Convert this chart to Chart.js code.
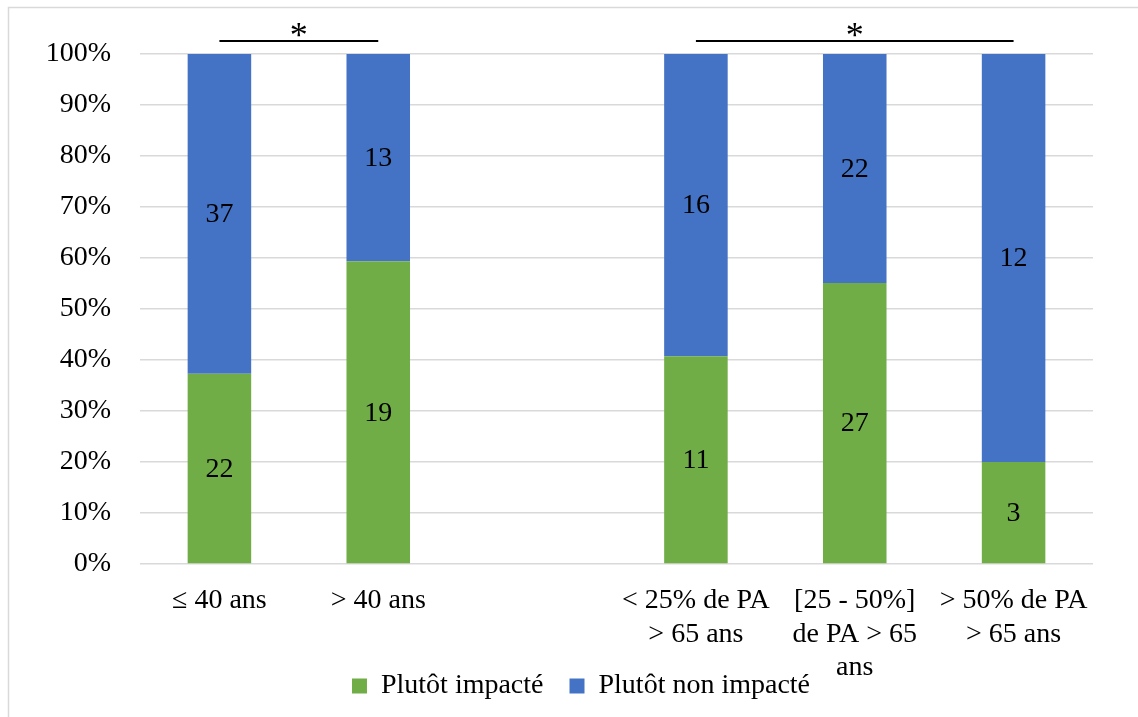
<!DOCTYPE html>
<html>
<head>
<meta charset="utf-8">
<script src="https://cdn.jsdelivr.net/npm/chart.js@4.4.1/dist/chart.umd.min.js"></script>
<style>
  html, body { margin: 0; padding: 0; background: #fff; overflow: hidden; }
  #wrap { width: 1138px; height: 730px; }
</style>
</head>
<body>
<div id="wrap"><canvas id="myChart" width="1138" height="730"></canvas></div>
<script>
// categories (the empty one is the gap between the two groups)
var categories = [
  '≤ 40 ans',
  '> 40 ans',
  '',
  ['< 25% de PA', '> 65 ans'],
  ['[25 - 50%]', 'de PA > 65', 'ans'],
  ['> 50% de PA', '> 65 ans']
];
// counts shown inside the bars
var impacte = [22, 19, null, 11, 27, 3];
var nonImpacte = [37, 13, null, 16, 22, 12];
var seriesNames = ['Plutôt impacté', 'Plutôt non impacté'];
var yTicks = [0, 10, 20, 30, 40, 50, 60, 70, 80, 90, 100];
// significance brackets: [from category, to category, mark]
var brackets = [[0, 1, '*'], [3, 5, '*']];

var FONT = 'Liberation Serif, Times New Roman, serif';

// share of each group, from the counts
function share(a, b) {
  return a.map(function (v, i) {
    if (v === null) return null;
    return v / (v + b[i]) * 100;
  });
}
var pctImpacte = share(impacte, nonImpacte);
var pctNon = share(nonImpacte, impacte);

// no clipping of tick labels (the long label runs into the legend)
function noLabelClip(scale) {
  scale._computeLabelArea = function () { return undefined; };
}

// white page + light frame
var framePlugin = {
  id: 'frame',
  beforeDraw: function (chart) {
    var ctx = chart.ctx;
    ctx.save();
    ctx.fillStyle = '#fff';
    ctx.fillRect(0, 0, chart.width, chart.height);
    ctx.strokeStyle = '#d9d9d9';
    ctx.lineWidth = 1.5;
    ctx.beginPath();
    ctx.moveTo(8.5, chart.height);
    ctx.lineTo(8.5, 7.5);
    ctx.lineTo(chart.width, 7.5);
    ctx.stroke();
    ctx.restore();
  }
};

// counts written in the middle of each segment
var countLabels = {
  id: 'countLabels',
  afterDatasetsDraw: function (chart) {
    var ctx = chart.ctx;
    var counts = [impacte, nonImpacte];
    ctx.save();
    ctx.font = '28px ' + FONT;
    ctx.fillStyle = '#000';
    ctx.textAlign = 'center';
    ctx.textBaseline = 'middle';
    chart.data.datasets.forEach(function (ds, d) {
      chart.getDatasetMeta(d).data.forEach(function (bar, i) {
        if (counts[d][i] === null) return;
        var p = bar.getCenterPoint();
        ctx.fillText(String(counts[d][i]), p.x, p.y + 1);
      });
    });
    ctx.restore();
  }
};

// brackets with a star above the bars
var bracketPlugin = {
  id: 'brackets',
  afterDraw: function (chart) {
    var ctx = chart.ctx;
    var x = chart.scales.x;
    var y = chart.chartArea.top - 13;
    ctx.save();
    ctx.strokeStyle = '#000';
    ctx.lineWidth = 2;
    ctx.fillStyle = '#000';
    ctx.font = '36px ' + FONT;
    ctx.textAlign = 'center';
    ctx.textBaseline = 'alphabetic';
    brackets.forEach(function (b) {
      var x1 = x.getPixelForValue(b[0]);
      var x2 = x.getPixelForValue(b[1]);
      ctx.beginPath();
      ctx.moveTo(x1, y);
      ctx.lineTo(x2, y);
      ctx.stroke();
      ctx.fillText(b[2], (x1 + x2) / 2, y + 6);
    });
    ctx.restore();
  }
};

let myChart = document.getElementById('myChart').getContext('2d');
let barChart = new Chart(myChart, {
  type: 'bar',
  data: {
    labels: categories,
    datasets: [{
      label: seriesNames[0],
      data: pctImpacte,
      backgroundColor: '#70ad47'
    }, {
      label: seriesNames[1],
      data: pctNon,
      backgroundColor: '#4472c4'
    }]
  },
  options: {
    responsive: false,
    animation: false,
    devicePixelRatio: 1,
    categoryPercentage: 1,
    barPercentage: 0.4,
    layout: {
      padding: { left: 69, right: 45, top: 54, bottom: 20 }
    },
    scales: {
      x: {
        stacked: true,
        grid: { display: false, drawTicks: false },
        border: { display: false },
        ticks: {
          color: '#000',
          font: { family: FONT, size: 28, lineHeight: 1.2 },
          padding: 20,
          maxRotation: 0,
          autoSkip: false
        },
        afterFit: function (scale) { scale.height = 82; noLabelClip(scale); }
      },
      y: {
        stacked: true,
        min: 0,
        max: 100,
        afterBuildTicks: function (scale) {
          scale.ticks = yTicks.map(function (v) { return { value: v }; });
        },
        grid: { color: '#d9d9d9', lineWidth: 1.5, drawTicks: false },
        border: { display: false },
        ticks: {
          color: '#000',
          font: { family: FONT, size: 28 },
          padding: 29,
          callback: function (v) { return v + '%'; }
        },
        afterFit: function (scale) { scale.width = 71; noLabelClip(scale); }
      }
    },
    plugins: {
      legend: {
        display: true,
        position: 'bottom',
        labels: {
          color: '#000',
          font: { family: FONT, size: 28 },
          boxWidth: 15,
          boxHeight: 15,
          padding: 26
        }
      },
      tooltip: { enabled: false }
    }
  },
  plugins: [framePlugin, countLabels, bracketPlugin]
});
</script>
</body>
</html>
